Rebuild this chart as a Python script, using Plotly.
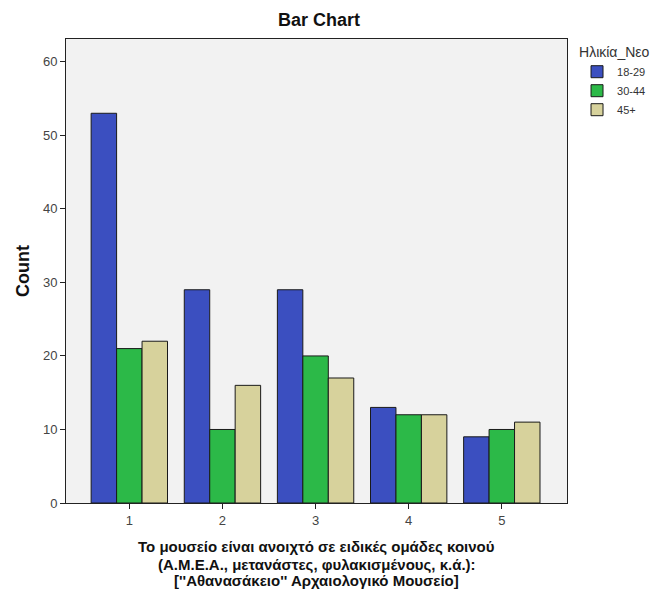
import plotly.graph_objects as go

categories = ["1", "2", "3", "4", "5"]
age_groups = ["18-29", "30-44", "45+"]
counts_18_29 = [53, 29, 29, 13, 9]
counts_30_44 = [21, 10, 20, 12, 10]
counts_45_plus = [22, 16, 17, 12, 11]

x_title_lines = [
    "Το μουσείο είναι ανοιχτό σε ειδικές ομάδες κοινού",
    "(Α.Μ.Ε.Α., μετανάστες, φυλακισμένους, κ.ά.):",
    "[''Αθανασάκειο'' Αρχαιολογικό Μουσείο]",
]
x_title_rows = [546, 564, 580]  # line centres in pixels

colors = ["#3b4fc0", "#2cb948", "#d7d29c"]
series = [counts_18_29, counts_30_44, counts_45_plus]

FONT = "Liberation Sans, Arial, sans-serif"

# plot area in pixels (from the reference)
L, R, T, B = 66, 572, 39, 503
W, H = 664, 595

fig = go.Figure()
for name, vals, col in zip(age_groups, series, colors):
    fig.add_trace(go.Bar(
        x=categories,
        y=vals,
        name=name,
        marker=dict(color=col, line=dict(color="#1a1a1a", width=1)),
    ))

# x axis title, one annotation per line so the spacing can be kept tight
for line, ypx in zip(x_title_lines, x_title_rows):
    fig.add_annotation(
        text=f"<b>{line}</b>", xref="paper", yref="paper",
        x=0.5, y=(B - ypx) / (B - T), xanchor="center", yanchor="middle",
        showarrow=False, font=dict(size=15, color="#111111"),
    )

fig.update_layout(
    width=W,
    height=H,
    barmode="group",
    bargap=0.18,
    bargroupgap=0,
    paper_bgcolor="white",
    plot_bgcolor="#f2f2f2",
    margin=dict(l=L, r=W - R, t=T, b=H - B),
    font=dict(family=FONT, size=13, color="#444444"),
    title=dict(text="<b>Bar Chart</b>", x=(L + R) / 2 / W, xanchor="center",
               y=1 - 20 / H, yanchor="middle",
               font=dict(size=18, color="#111111")),
    legend=dict(
        title=dict(text="Ηλικία_Νεο", font=dict(size=14, color="#333333")),
        x=1.02, xanchor="left", y=1.0, yanchor="top",
        font=dict(size=11, color="#333333"),
        tracegroupgap=0, itemwidth=30,
        bgcolor="rgba(0,0,0,0)",
    ),
    xaxis=dict(
        type="category",
        range=[-0.68, 4.70],
        showgrid=False, automargin=False,
        showline=True, linecolor="#222222", linewidth=1, mirror=True,
        ticks="outside", ticklen=5, tickcolor="#222222",
        tickfont=dict(size=13, color="#444444"),
    ),
    yaxis=dict(
        range=[0, 63.1],
        tickvals=[0, 10, 20, 30, 40, 50, 60],
        showgrid=False, zeroline=False, automargin=False,
        showline=True, linecolor="#222222", linewidth=1, mirror=True,
        ticks="outside", ticklen=5, tickcolor="#222222",
        tickfont=dict(size=13, color="#444444"),
        title=dict(text="<b>Count</b>", font=dict(size=18, color="#111111"), standoff=8),
    ),
)

fig.write_html("out.html", config={"displayModeBar": False},
               post_script="document.body.style.margin='0';")
